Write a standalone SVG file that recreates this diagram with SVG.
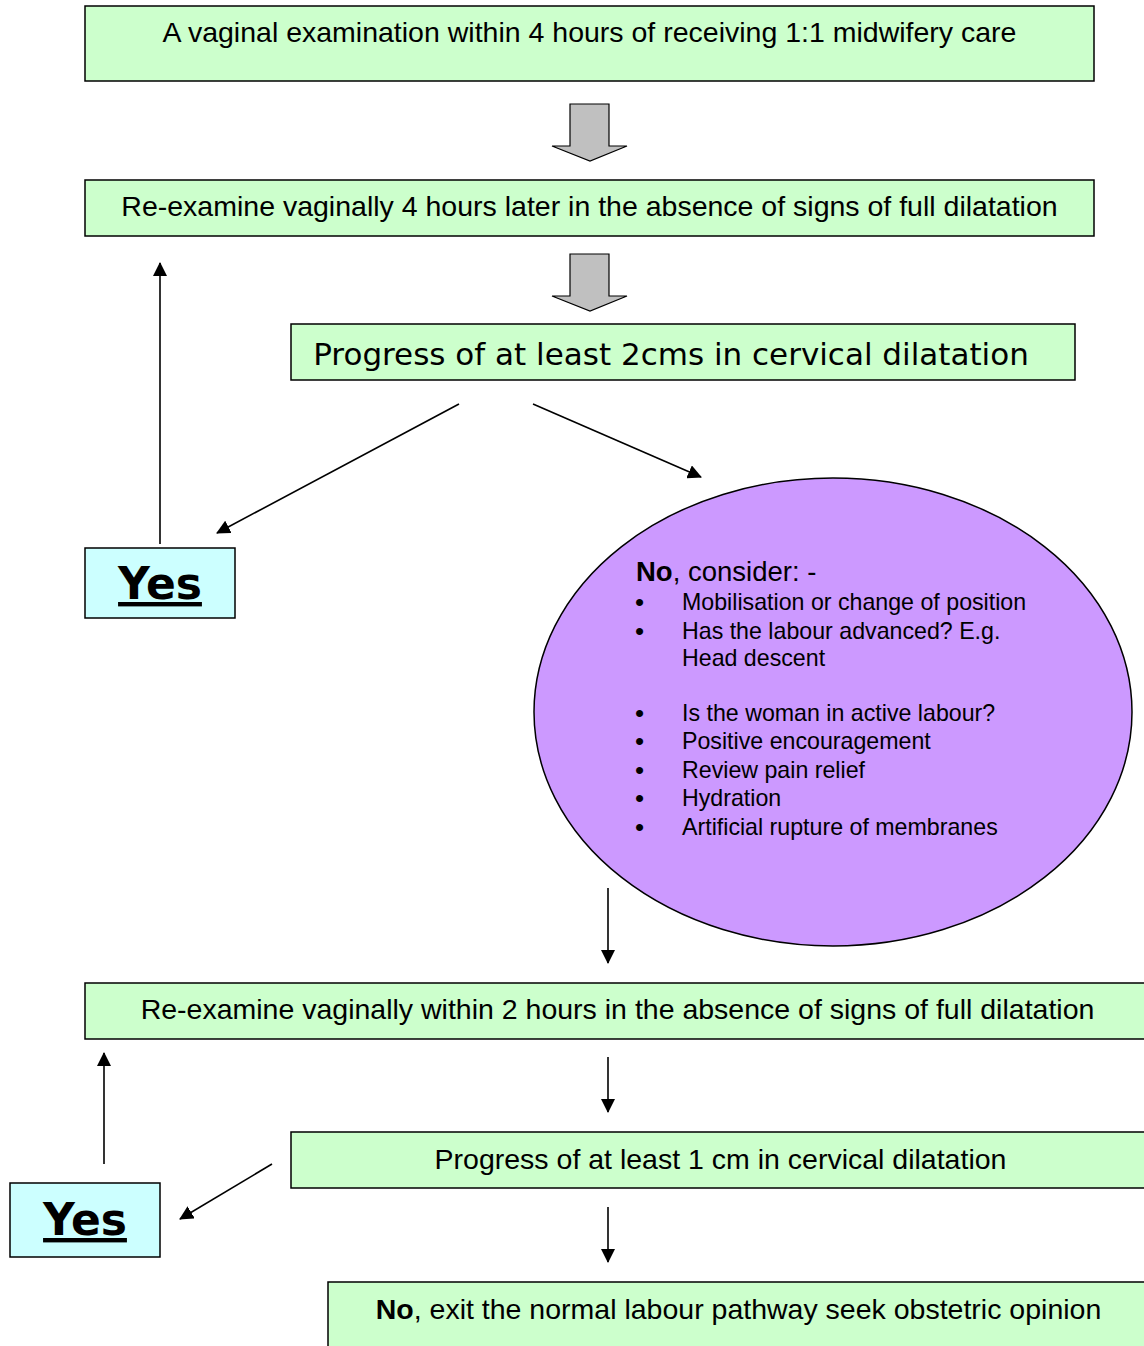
<svg xmlns="http://www.w3.org/2000/svg" width="1144" height="1346" viewBox="0 0 1144 1346">
<defs>
<marker id="ah" markerWidth="14" markerHeight="14" refX="13" refY="7" orient="auto" markerUnits="userSpaceOnUse" viewBox="0 0 14 14">
<path d="M0,0 L14,7 L0,14 z" fill="#000"/>
</marker>
<style>
.g{fill:#CCFFCC;stroke:#000;stroke-width:1.5}
.c{fill:#CCFFFF;stroke:#000;stroke-width:1.5}
.t{font-family:"Liberation Sans",Arial,sans-serif;font-size:28.5px;fill:#000}
.e{font-family:"Liberation Sans",Arial,sans-serif;font-size:23.2px;fill:#000}
.b{font-family:"Liberation Sans",Arial,sans-serif;font-size:26px;fill:#000}
.h{font-family:"Liberation Sans",Arial,sans-serif;font-size:27.5px;fill:#000}
.v{font-family:"DejaVu Sans",Verdana,sans-serif;font-size:31px;fill:#000}
.yes{font-family:"DejaVu Sans",Verdana,sans-serif;font-weight:bold;font-size:44px;text-decoration:underline;fill:#000}
.ln{stroke:#000;stroke-width:1.6;fill:none;marker-end:url(#ah)}
.blk{fill:#C0C0C0;stroke:#000;stroke-width:1.2}
</style>
</defs>
<rect width="1144" height="1346" fill="#fff"/>
<g id="n1"><rect class="g" x="85" y="6" width="1009" height="75"/><text class="t" x="589.5" y="42" text-anchor="middle">A vaginal examination within 4 hours of receiving 1:1 midwifery care</text></g>
<g id="n2"><rect class="g" x="85" y="180" width="1009" height="56"/><text class="t" x="589.5" y="216" text-anchor="middle">Re-examine vaginally 4 hours later in the absence of signs of full dilatation</text></g>
<g id="n3"><rect class="g" x="291" y="324" width="784" height="56"/><text class="v" x="671" y="365" text-anchor="middle">Progress of at least 2cms in cervical dilatation</text></g>
<g id="yes1"><rect class="c" x="85" y="548" width="150" height="70"/><text class="yes" x="160" y="599" text-anchor="middle">Yes</text></g>
<g id="no1"><ellipse cx="833" cy="712" rx="299" ry="234" fill="#CC99FF" stroke="#000" stroke-width="1.5"/>
<text class="h" x="636" y="581"><tspan font-weight="bold">No</tspan>, consider: -</text>
<g class="e">
<text class="b" x="635" y="611">•</text><text x="682" y="610">Mobilisation or change of position</text>
<text class="b" x="635" y="640">•</text><text x="682" y="639">Has the labour advanced? E.g.</text>
<text x="682" y="666">Head descent</text>
<text class="b" x="635" y="722">•</text><text x="682" y="721">Is the woman in active labour?</text>
<text class="b" x="635" y="750">•</text><text x="682" y="749">Positive encouragement</text>
<text class="b" x="635" y="779">•</text><text x="682" y="778">Review pain relief</text>
<text class="b" x="635" y="807">•</text><text x="682" y="806">Hydration</text>
<text class="b" x="635" y="836">•</text><text x="682" y="835">Artificial rupture of membranes</text>
</g></g>
<g id="n4"><rect class="g" x="85" y="983" width="1070" height="56"/><text class="t" x="617.5" y="1019" text-anchor="middle">Re-examine vaginally within 2 hours in the absence of signs of full dilatation</text></g>
<g id="n5"><rect class="g" x="291" y="1132" width="864" height="56"/><text class="t" x="720.5" y="1169" text-anchor="middle">Progress of at least 1 cm in cervical dilatation</text></g>
<g id="n6"><rect class="g" x="328" y="1282" width="827" height="70"/><text class="t" x="738.5" y="1319" text-anchor="middle"><tspan font-weight="bold">No</tspan>, exit the normal labour pathway seek obstetric opinion</text></g>
<g id="yes2"><rect class="c" x="10" y="1183" width="150" height="74"/><text class="yes" x="85" y="1235" text-anchor="middle">Yes</text></g>
<g id="connectors">
<path class="blk" d="M570,104 H609 V146 H627 L590,161 L552,146 H570 Z"/>
<path class="blk" d="M570,254 H609 V296 H627 L590,311 L552,296 H570 Z"/>
<line class="ln" x1="459" y1="404" x2="217" y2="533"/>
<line class="ln" x1="533" y1="404" x2="701" y2="477"/>
<line class="ln" x1="160" y1="544" x2="160" y2="263"/>
<line class="ln" x1="608" y1="888" x2="608" y2="963"/>
<line class="ln" x1="608" y1="1057" x2="608" y2="1112"/>
<line class="ln" x1="608" y1="1207" x2="608" y2="1262"/>
<line class="ln" x1="272" y1="1164" x2="180" y2="1219"/>
<line class="ln" x1="104" y1="1164" x2="104" y2="1053"/>
</g>
</svg>
